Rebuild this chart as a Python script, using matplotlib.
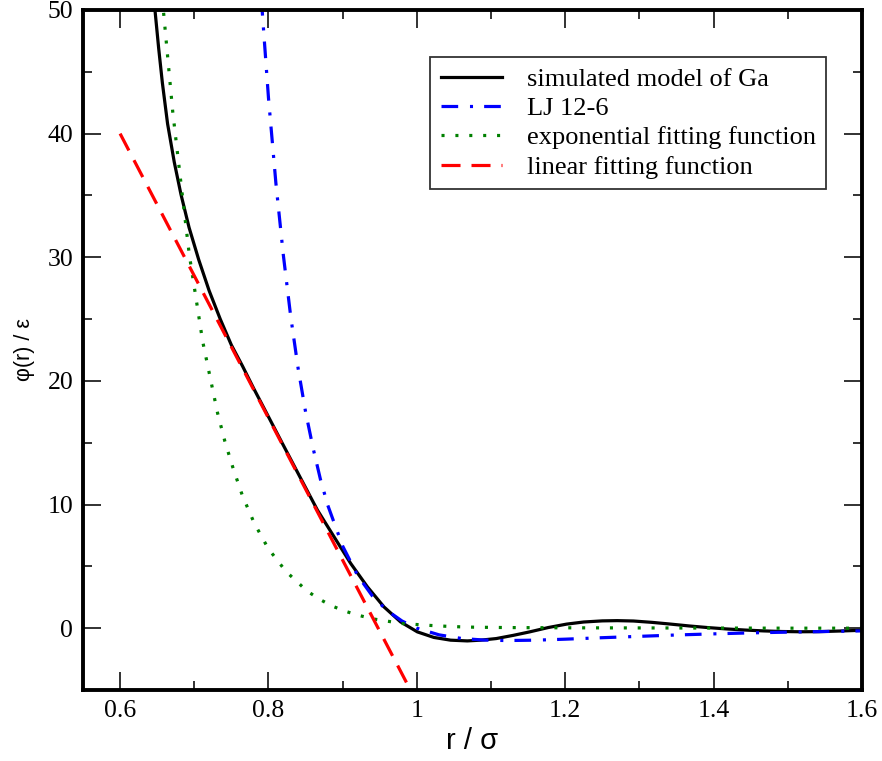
import numpy as np
import matplotlib
matplotlib.use("Agg")
import matplotlib.pyplot as plt

plt.rcParams['font.family'] = 'serif'
plt.rcParams['font.serif'] = ['Liberation Serif', 'DejaVu Serif']
plt.rcParams['lines.scale_dashes'] = False

# simulated model of Ga
r_ga = [0.644, 0.647, 0.652, 0.657, 0.664, 0.673, 0.682, 0.693, 0.706, 0.720,
        0.735, 0.750, 0.765, 0.780, 0.800, 0.820, 0.8436, 0.866, 0.8884, 0.9109,
        0.9334, 0.9557, 0.978, 1.0007, 1.023, 1.0455, 1.068, 1.086, 1.107, 1.130,
        1.152, 1.177, 1.202, 1.225, 1.250, 1.270, 1.292, 1.317, 1.342, 1.367,
        1.392, 1.417, 1.442, 1.467, 1.492, 1.517, 1.542, 1.570, 1.600]
phi_ga = [52.5, 50.0, 46.9, 44.1, 40.8, 37.7, 35.1, 32.4, 29.8, 27.3,
          25.0, 22.9, 21.2, 19.4, 17.1, 14.8, 12.1, 9.55, 7.39, 5.23,
          3.34, 1.72, 0.51, -0.30, -0.75, -0.97, -1.03, -0.97, -0.84, -0.58,
          -0.30, 0.05, 0.33, 0.50, 0.59, 0.61, 0.58, 0.47, 0.33, 0.18,
          0.05, -0.06, -0.15, -0.22, -0.27, -0.29, -0.28, -0.23, -0.17]

# LJ 12-6
r_lj = [0.79, 0.80, 0.81, 0.82, 0.83, 0.84, 0.85, 0.86, 0.87, 0.88,
        0.90, 0.92, 0.94, 0.96, 0.98, 1.00, 1.03, 1.06, 1.09, 1.12,
        1.16, 1.20, 1.25, 1.30, 1.35, 1.40, 1.45, 1.50, 1.55, 1.60]
phi_lj = [51.2, 42.9, 36.0, 30.2, 25.2, 21.0, 17.5, 14.6, 12.05, 9.93,
          6.64, 4.28, 2.61, 1.42, 0.58, 0.0, -0.54, -0.83, -0.96, -1.0,
          -0.97, -0.89, -0.77, -0.66, -0.55, -0.46, -0.38, -0.32, -0.27, -0.22]

# exponential fitting function
r_exp = [0.6555, 0.6583, 0.6709, 0.6776, 0.6843, 0.6933, 0.7023, 0.7113, 0.7234, 0.7314,
         0.7413, 0.7525, 0.765, 0.7808, 0.7996, 0.8234, 0.8517, 0.868, 0.885, 0.903,
         0.922, 0.941, 0.960, 0.9795, 0.9988, 1.0186, 1.0378, 1.0577, 1.077, 1.12,
         1.20, 1.30, 1.40, 1.50, 1.60]
phi_exp = [52.0, 50.0, 41.8, 38.3, 34.8, 30.2, 26.7, 23.2, 19.7, 17.4,
           15.1, 12.9, 10.7, 8.5, 6.45, 4.6, 3.02, 2.37, 1.81, 1.38,
           1.03, 0.75, 0.57, 0.38, 0.30, 0.22, 0.16, 0.11, 0.08, 0.05,
           0.03, 0.02, 0.01, 0.0, 0.0]

# linear fitting function
r_lin = [0.6, 1.0]
phi_lin = [40.0, -6.0]

labels = ['simulated model of Ga', 'LJ 12-6', 'exponential fitting function',
          'linear fitting function']
xticks = [0.6, 0.8, 1.0, 1.2, 1.4, 1.6]
xticklabels = ['0.6', '0.8', '1', '1.2', '1.4', '1.6']
yticks = [0, 10, 20, 30, 40, 50]

fig = plt.figure(figsize=(8.82, 7.61), dpi=100)
ax = fig.add_axes([0.0941, 0.0933, 0.8832, 0.8936])

lw = 2.3
ax.plot(r_ga, phi_ga, color='black', lw=lw, label=labels[0])
ax.plot(r_lj, phi_lj, color='blue', lw=lw, linestyle=(0, (12, 8.5, 2.2, 8)),
        dash_capstyle='butt', label=labels[1])
ax.plot(r_exp, phi_exp, color='green', lw=lw, linestyle=(0, (2.2, 7.8)),
        dash_capstyle='butt', label=labels[2])
ax.plot(r_lin, phi_lin, color='red', lw=lw, linestyle=(0, (13.7, 7.9)),
        dash_capstyle='butt', label=labels[3])

ax.set_xlim(0.55, 1.6)
ax.set_ylim(-5, 50)
ax.set_xticks(xticks)
ax.set_xticklabels(xticklabels)
ax.set_yticks(yticks)
ax.set_xticks(np.arange(0.6, 1.61, 0.1), minor=True)
ax.set_yticks(np.arange(-5, 50.1, 5), minor=True)

ax.tick_params(which='both', direction='in', top=True, right=True,
               width=1.3, colors='#222222', labelcolor='black', labelsize=18.5, pad=7)
ax.tick_params(which='major', length=13)
ax.tick_params(which='minor', length=6.5)
for s in ax.spines.values():
    s.set_linewidth(2.8)

ax.set_xlabel('r / σ', family='Liberation Sans', fontsize=21, labelpad=4)
ax.set_ylabel('φ(r) / ε', family='Liberation Sans', fontsize=15.5, labelpad=9)

leg = ax.legend(loc='upper right', bbox_to_anchor=(0.954, 0.931), borderaxespad=0,
                fancybox=False, frameon=True, edgecolor='black', fontsize=19,
                handlelength=2.3, handletextpad=0.95, labelspacing=0.22,
                borderpad=0.4)
leg.get_frame().set_linewidth(1.3)

fig.savefig('out.png', dpi=100)
